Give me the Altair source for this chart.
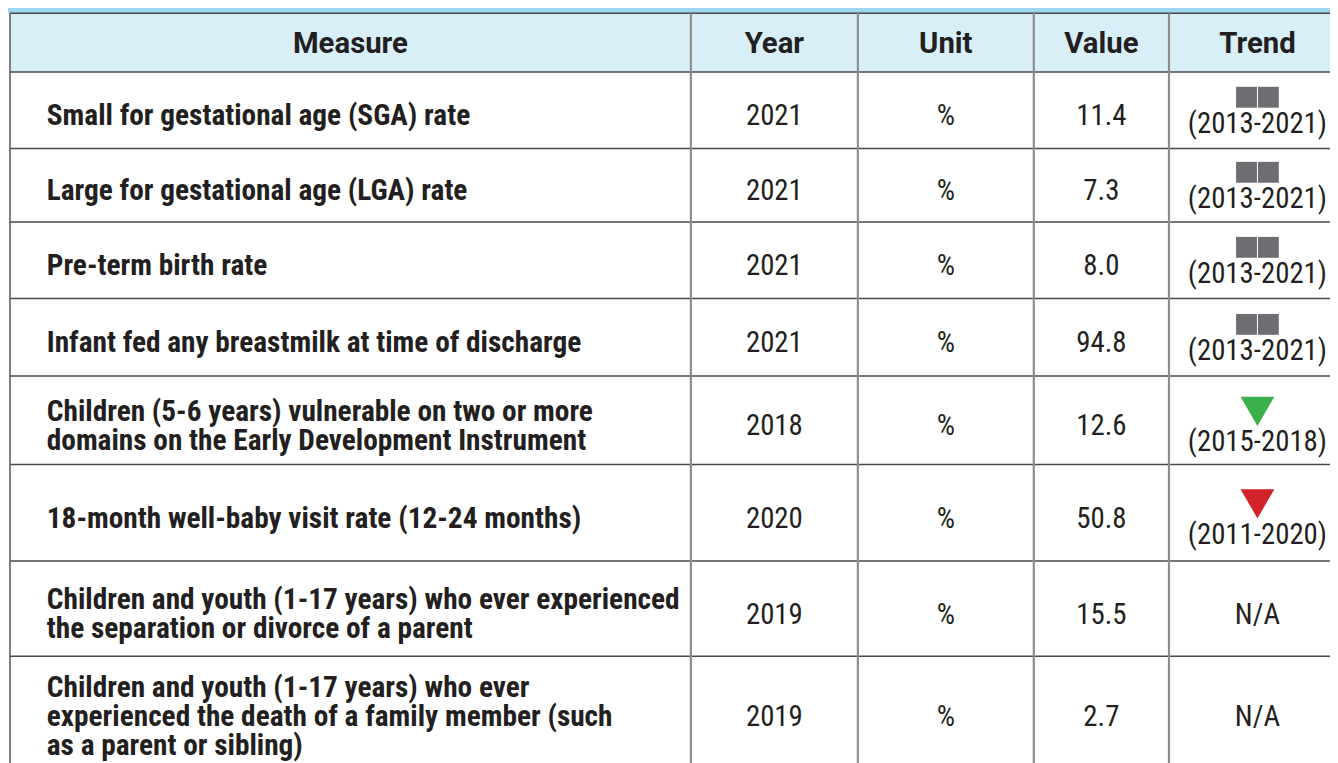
import altair as alt
import pandas as pd

# ---------------- data ----------------
headers = ["Measure", "Year", "Unit", "Value", "Trend"]
measures = [
    ["Small for gestational age (SGA) rate"],
    ["Large for gestational age (LGA) rate"],
    ["Pre-term birth rate"],
    ["Infant fed any breastmilk at time of discharge"],
    ["Children (5-6 years) vulnerable on two or more",
     "domains on the Early Development Instrument"],
    ["18-month well-baby visit rate (12-24 months)"],
    ["Children and youth (1-17 years) who ever experienced",
     "the separation or divorce of a parent"],
    ["Children and youth (1-17 years) who ever",
     "experienced the death of a family member (such",
     "as a parent or sibling)"],
]
years = ["2021", "2021", "2021", "2021", "2018", "2020", "2019", "2019"]
units = ["%", "%", "%", "%", "%", "%", "%", "%"]
values = [11.4, 7.3, 8.0, 94.8, 12.6, 50.8, 15.5, 2.7]
trend_icons = ["flat", "flat", "flat", "flat", "down_good", "down_bad", "none", "none"]
trend_periods = ["(2013-2021)", "(2013-2021)", "(2013-2021)", "(2013-2021)",
                 "(2015-2018)", "(2011-2020)", "N/A", "N/A"]

# ---------------- layout (reference pixel space) ----------------
W, H, MARGIN = 1338, 763, 8
col_edges = [10, 695, 863, 1040, 1176, 1354]
band_top, header_top, header_bottom = 0, 11, 70
row_edges = [70, 147, 221, 298, 376, 465, 562, 658, 768]
measure_x = 47
line_h = 29.5
text_dy = 6
col_centers = [(col_edges[i] + col_edges[i + 1]) / 2 for i in range(5)]

TXT = "#231f20"
BAND = "#9dd8f0"
HEAD = "#d9eff8"
HLINE = "#4a4a4a"
VLINE = "#8d8d8d"
GRAY = "#6d6e71"
GREEN = "#3cb04a"
RED = "#d2232a"
COND = "Roboto Condensed, Liberation Sans Narrow, DejaVu Sans Condensed, Arial Narrow, Roboto"

xs = alt.Scale(domain=[MARGIN, W], nice=False, zero=False)
ys = alt.Scale(domain=[MARGIN, H], nice=False, zero=False, reverse=True)

def X(f):
    return alt.X(f, type="quantitative", scale=xs, axis=None)

def Y(f):
    return alt.Y(f, type="quantitative", scale=ys, axis=None)

# background rects
bg = pd.DataFrame([
    {"x": 0, "x2": W + 20, "y": band_top, "y2": header_top, "c": BAND},
    {"x": col_edges[0], "x2": W + 20, "y": header_top, "y2": header_bottom, "c": HEAD},
])
bg_layer = alt.Chart(bg).mark_rect().encode(
    x=X("x"), x2="x2", y=Y("y"), y2="y2", color=alt.Color("c:N", scale=None))

# horizontal lines
hl = pd.DataFrame([{"x": col_edges[0], "x2": W + 20, "y": y}
                   for y in [header_top, header_bottom] + row_edges[1:]])
hl_layer = alt.Chart(hl).mark_rule(color=HLINE, strokeWidth=1.5).encode(
    x=X("x"), x2="x2", y=Y("y"))

# vertical lines
vl = pd.DataFrame([{"x": x, "y": header_top, "y2": row_edges[-1] + 10,
                    "c": "#555555" if i == 0 else VLINE, "w": 1.5 if i == 0 else 2.2}
                   for i, x in enumerate(col_edges[:-1])])
vl_layer = alt.Chart(vl).mark_rule().encode(
    x=X("x"), y=Y("y"), y2="y2",
    color=alt.Color("c:N", scale=None),
    strokeWidth=alt.StrokeWidth("w:Q", scale=None))

# header text
hd = pd.DataFrame({"t": headers, "x": col_centers,
                   "y": [(header_top + header_bottom) / 2 + 1] * 5})
hd_layer = alt.Chart(hd).mark_text(font="Roboto", fontWeight="bold", fontSize=29.5,
                                   color=TXT, baseline="middle", align="center").encode(
    x=X("x"), y=Y("y"), text="t:N")

# measure text
mrows = []
for r, lines in enumerate(measures):
    rc = (row_edges[r] + row_edges[r + 1]) / 2 + text_dy
    n = len(lines)
    for i, ln in enumerate(lines):
        mrows.append({"t": ln, "x": measure_x, "y": rc + (i - (n - 1) / 2) * line_h})
m_layer = alt.Chart(pd.DataFrame(mrows)).mark_text(
    font=COND, fontWeight="bold", fontSize=29.5, color=TXT,
    baseline="middle", align="left").encode(x=X("x"), y=Y("y"), text="t:N")

# data cells
drows = []
for r in range(len(measures)):
    rc = (row_edges[r] + row_edges[r + 1]) / 2 + text_dy
    drows.append({"t": years[r], "x": col_centers[1], "y": rc})
    drows.append({"t": units[r], "x": col_centers[2], "y": rc})
    drows.append({"t": f"{values[r]:.1f}", "x": col_centers[3], "y": rc})
    ico = trend_icons[r]
    if ico == "flat":
        ty = rc - text_dy + 13.5
    elif ico == "none":
        ty = rc
    else:
        ty = rc - text_dy + 22
    drows.append({"t": trend_periods[r], "x": col_centers[4], "y": ty})
d_layer = alt.Chart(pd.DataFrame(drows)).mark_text(
    font=COND, fontSize=29, color=TXT, baseline="middle", align="center").encode(
    x=X("x"), y=Y("y"), text="t:N")

# trend icons
sq, tri = [], []
for r, ico in enumerate(trend_icons):
    rc = (row_edges[r] + row_edges[r + 1]) / 2
    if ico == "flat":
        cy = rc - 13
        cx = col_centers[4]
        sq.append({"x": cx - 21.5, "x2": cx - 0.5, "y": cy - 10.5, "y2": cy + 10.5})
        sq.append({"x": cx + 0.5, "x2": cx + 21.5, "y": cy - 10.5, "y2": cy + 10.5})
    elif ico in ("down_good", "down_bad"):
        tri.append({"x": col_centers[4], "y": rc - 9,
                    "c": GREEN if ico == "down_good" else RED})
sq_layer = alt.Chart(pd.DataFrame(sq)).mark_rect(color=GRAY).encode(
    x=X("x"), x2="x2", y=Y("y"), y2="y2")
tri_layer = alt.Chart(pd.DataFrame(tri)).mark_point(
    shape="triangle-down", filled=True, size=1156, opacity=1, strokeWidth=0).encode(
    x=X("x"), y=Y("y"), color=alt.Color("c:N", scale=None))

chart = alt.layer(bg_layer, hl_layer, vl_layer, hd_layer, m_layer, d_layer,
                  sq_layer, tri_layer).properties(
    width=W - MARGIN, height=H - MARGIN,
    autosize=alt.AutoSizeParams(type="none"), padding=0,
).configure_view(stroke=None)

chart.save("out.html", embed_options={"renderer": "svg", "actions": False})
